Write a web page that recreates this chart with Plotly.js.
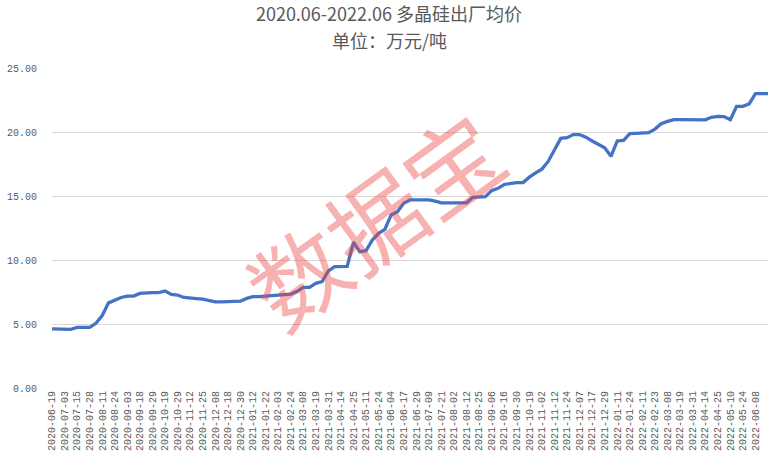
<!DOCTYPE html>
<html>
<head>
<meta charset="utf-8">
<script src="https://cdn.plot.ly/plotly-3.0.1.min.js"></script>
<style>
html,body{margin:0;padding:0;background:#fff;}
#chart{width:778px;height:461px;}
</style>
</head>
<body>
<div id="chart"></div>
<script>
// Trading dates (labelled dates plus in-between observations)
const dates = [
"2020-06-19","2020-06-24","2020-07-03","2020-07-09","2020-07-15","2020-07-21","2020-07-28","2020-08-04",
"2020-08-11","2020-08-17","2020-08-24","2020-08-28","2020-09-03","2020-09-10","2020-09-18","2020-09-23",
"2020-09-29","2020-10-13","2020-10-19","2020-10-23","2020-10-29","2020-11-05","2020-11-12","2020-11-18",
"2020-11-25","2020-12-01","2020-12-08","2020-12-14","2020-12-18","2020-12-24","2020-12-30","2021-01-07",
"2021-01-12","2021-01-18","2021-01-22","2021-01-28","2021-02-03","2021-02-09","2021-02-24","2021-03-02",
"2021-03-08","2021-03-12","2021-03-19","2021-03-25","2021-03-31","2021-04-08","2021-04-14","2021-04-20",
"2021-04-25","2021-05-06","2021-05-11","2021-05-18","2021-05-24","2021-05-28","2021-06-04","2021-06-10",
"2021-06-17","2021-06-23","2021-06-29","2021-07-05","2021-07-09","2021-07-15","2021-07-21","2021-07-27",
"2021-08-02","2021-08-06","2021-08-12","2021-08-18","2021-08-25","2021-08-31","2021-09-06","2021-09-10",
"2021-09-16","2021-09-24","2021-09-30","2021-10-13","2021-10-19","2021-10-26","2021-11-02","2021-11-08",
"2021-11-12","2021-11-18","2021-11-24","2021-12-01","2021-12-07","2021-12-13","2021-12-17","2021-12-23",
"2021-12-29","2022-01-05","2022-01-11","2022-01-18","2022-01-24","2022-01-28","2022-02-11","2022-02-17",
"2022-02-23","2022-03-02","2022-03-08","2022-03-14","2022-03-19","2022-03-25","2022-03-31","2022-04-08",
"2022-04-14","2022-04-20","2022-04-25","2022-04-29","2022-05-10","2022-05-17","2022-05-24","2022-05-31",
"2022-06-08","2022-06-14","2022-06-20"
];

// 多晶硅出厂均价 (万元/吨)
const prices = [
4.62,4.62,4.62,4.58,4.73,4.73,4.73,5.05,
5.66,6.65,6.86,7.07,7.18,7.18,7.39,7.45,
7.45,7.45,7.58,7.31,7.26,7.07,7.05,6.99,
6.94,6.86,6.73,6.73,6.73,6.76,6.78,7.00,
7.14,7.14,7.19,7.19,7.24,7.32,7.34,7.53,
7.86,7.86,8.18,8.31,9.14,9.48,9.48,9.50,
11.40,10.65,10.73,11.56,12.08,12.40,13.52,13.78,
14.43,14.69,14.69,14.69,14.70,14.60,14.47,14.47,
14.47,14.47,14.47,14.90,14.90,14.95,15.42,15.60,
15.90,16.00,16.05,16.05,16.47,16.80,17.10,17.70,
18.60,19.50,19.55,19.80,19.80,19.60,19.30,19.00,
18.76,18.10,19.30,19.35,19.87,19.90,19.90,19.95,
20.23,20.65,20.83,20.96,20.96,20.96,20.96,20.95,
20.95,21.15,21.22,21.20,20.96,22.00,22.00,22.20,
23.00,23.00,23.00
];

// Dates shown on the category axis
const tickDates = [
"2020-06-19","2020-07-03","2020-07-15","2020-07-28","2020-08-11","2020-08-24","2020-09-03","2020-09-18",
"2020-09-29","2020-10-19","2020-10-29","2020-11-12","2020-11-25","2020-12-08","2020-12-18","2020-12-30",
"2021-01-12","2021-01-22","2021-02-03","2021-02-24","2021-03-08","2021-03-19","2021-03-31","2021-04-14",
"2021-04-25","2021-05-11","2021-05-24","2021-06-04","2021-06-17","2021-06-29","2021-07-09","2021-07-21",
"2021-08-02","2021-08-12","2021-08-25","2021-09-06","2021-09-16","2021-09-30","2021-10-19","2021-11-02",
"2021-11-12","2021-11-24","2021-12-07","2021-12-17","2021-12-29","2022-01-11","2022-01-24","2022-02-11",
"2022-02-23","2022-03-08","2022-03-19","2022-03-31","2022-04-14","2022-04-25","2022-05-10","2022-05-24",
"2022-06-08"
];

const yTicks = [0, 5, 10, 15, 20, 25];

const titleText = "2020.06-2022.06 多晶硅出厂均价";
const subtitleText = "单位：万元/吨";
const watermark = "数据宝";

const trace = {
  x: dates,
  y: prices,
  type: "scatter",
  mode: "lines",
  line: {color: "#4472C4", width: 3.3},
  hoverinfo: "skip"
};

const tickFont = {family: "Liberation Mono, DejaVu Sans Mono, monospace", size: 10, color: "#595959"};
const titleFont = {family: "Noto Sans CJK SC, sans-serif", size: 18, color: "#595959"};

const layout = {
  width: 778,
  height: 461,
  paper_bgcolor: "#ffffff",
  plot_bgcolor: "#ffffff",
  margin: {l: 52, r: 10, t: 68, b: 73},
  showlegend: false,
  title: {
    text: titleText,
    x: 0.5, xref: "container", xanchor: "center",
    y: 0.969, yref: "container", yanchor: "middle",
    font: titleFont
  },
  xaxis: {
    type: "category",
    categoryorder: "array",
    categoryarray: dates,
    range: [0, dates.length - 1],
    tickmode: "array",
    tickvals: tickDates,
    ticktext: tickDates,
    tickangle: -90,
    tickfont: tickFont,
    showgrid: false,
    zeroline: false,
    showline: false,
    ticks: ""
  },
  yaxis: {
    range: [0, 25],
    tickmode: "array",
    tickvals: yTicks,
    tickformat: ".2f",
    tickfont: tickFont,
    gridcolor: "#D9D9D9",
    gridwidth: 1,
    zeroline: false,
    showline: false,
    ticks: "",
    ticklabelstandoff: 14
  },
  annotations: [{
    text: subtitleText,
    xref: "paper", yref: "paper",
    x: (389 - 52) / 716, y: 1.0884,
    xanchor: "center", yanchor: "middle",
    showarrow: false,
    font: titleFont
  }, {
    text: watermark,
    xref: "paper", yref: "paper",
    x: 0.4486, y: 0.532,
    xanchor: "center", yanchor: "middle",
    textangle: -36,
    showarrow: false,
    font: {family: "Noto Sans CJK SC, sans-serif", size: 95, color: "rgba(235,70,70,0.42)"}
  }]
};

Plotly.newPlot("chart", [trace], layout, {displayModeBar: false, staticPlot: true});
</script>
</body>
</html>
